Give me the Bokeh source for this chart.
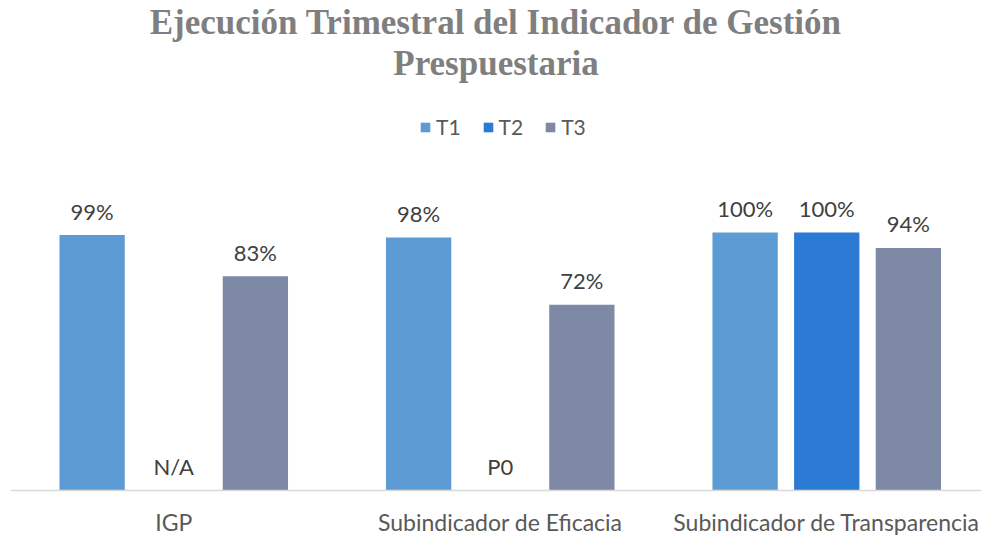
from bokeh.plotting import figure
from bokeh.models import ColumnDataSource, Range1d, Legend, LegendItem, Title, Span
from bokeh.embed import file_html
from bokeh.resources import INLINE
from bokeh.core.properties import value

categories = ["IGP", "Subindicador de Eficacia", "Subindicador de Transparencia"]
series = ["T1", "T2", "T3"]
t1 = [99, 98, 100]
t2 = [0, 0, 100]
t3 = [83, 72, 94]
t1_labels = ["99%", "98%", "100%"]
t2_labels = ["N/A", "P0", "100%"]
t3_labels = ["83%", "72%", "94%"]
colors = ["#5c9bd4", "#2b7bd5", "#7d89a5"]
title_lines = ["Ejecución Trimestral del Indicador de Gestión", "Prespuestaria"]

offsets = [-0.25, 0.0, 0.25]
bar_width = 0.2
centers = [i + 0.5 for i in range(len(categories))]

p = figure(
    width=981, height=535,
    x_range=Range1d(0, 2.974), y_range=Range1d(-17.44, 158.1),
    output_backend="svg", toolbar_location=None,
    x_axis_location=None, y_axis_location=None,
    min_border=0, min_border_left=10, min_border_right=0, min_border_top=0, min_border_bottom=0,
)

p.add_layout(Span(location=0, dimension="width", line_color="#d9d9d9", line_width=1.5))

renderers = []
for name, vals, labs, col, off in zip(series, [t1, t2, t3], [t1_labels, t2_labels, t3_labels], colors, offsets):
    src = ColumnDataSource(dict(x=[c + off for c in centers], top=vals, label=labs))
    r = p.vbar(x="x", top="top", width=bar_width, bottom=0, source=src,
               fill_color=col, line_color=None)
    renderers.append(r)
    p.text(x="x", y="top", text="label", source=src, text_align="center",
           text_baseline="middle", y_offset=-24, text_font=value("Lato"),
           text_font_size="22px", text_color="#404040")

cat_src = ColumnDataSource(dict(x=centers, y=[0] * len(categories), name=categories))
p.text(x="x", y="y", text="name", source=cat_src, text_align="center",
       text_baseline="middle", y_offset=32, text_font=value("Lato"),
       text_font_size="23px", text_color="#595959")

legend = Legend(items=[LegendItem(label=s, renderers=[r]) for s, r in zip(series, renderers)],
                orientation="horizontal", location=(409, 396),
                glyph_width=12, glyph_height=12, label_standoff=5, spacing=21,
                label_text_font="Lato", label_text_font_size="21px", label_text_color="#595959",
                border_line_color=None, background_fill_alpha=0, padding=4, margin=0)
p.add_layout(legend, "center")
for line in reversed(title_lines):
    p.add_layout(Title(text=line, align="center", text_font="Liberation Serif", standoff=0,
                       text_font_size="35px", text_font_style="bold", text_color="#7f7f7f"), "above")

p.xgrid.visible = False
p.ygrid.visible = False
p.outline_line_color = None

open("out.html", "w").write(file_html(p, INLINE))
